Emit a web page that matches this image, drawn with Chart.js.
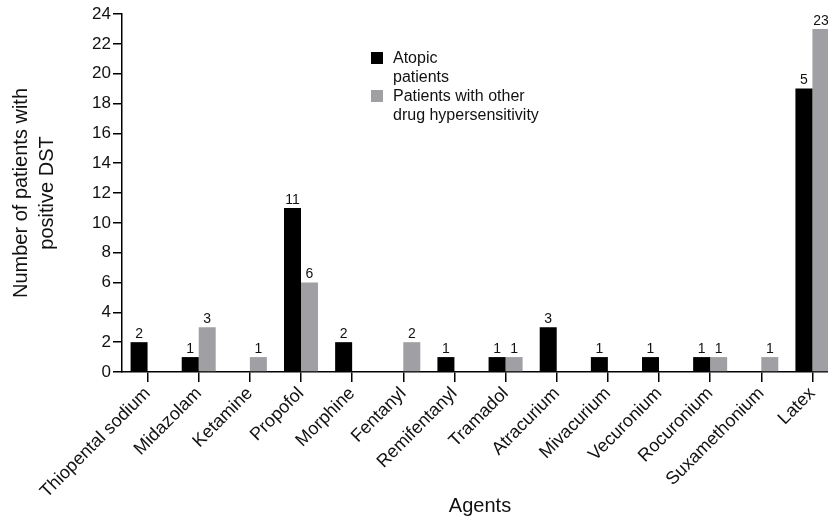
<html><head>
<meta charset="UTF-8">
<title>Positive DST by agent</title>
<script src="https://cdn.jsdelivr.net/npm/chart.js"></script>
<style>
body {
  margin: 0;
  background: #ffffff;
  overflow: hidden;
  font-family: "Liberation Sans", Arial, sans-serif;
}
.wrap {
  position: relative;
  width: 840px;
  height: 520px;
}
.legend {
  position: absolute;
  left: 371px;
  top: 48px;
  font-size: 16px;
  line-height: 19px;
  color: #111;
}
.legend-item {
  display: flex;
  align-items: flex-start;
}
.swatch {
  width: 12px;
  height: 12px;
  margin: 4px 10px 0 0;
  flex-shrink: 0;
}
</style>
</head>
<body>

<div class="wrap">
  <canvas id="chart" width="840" height="520"></canvas>
  <div class="legend">
    <div class="legend-item"><span class="swatch" style="background:#000"></span><span>Atopic<br>patients</span></div>
    <div class="legend-item"><span class="swatch" style="background:#a0a0a4"></span><span>Patients with other<br>drug hypersensitivity</span></div>
  </div>
</div>

<script>
const agents = ["Thiopental sodium", "Midazolam", "Ketamine", "Propofol", "Morphine", "Fentanyl",
  "Remifentanyl", "Tramadol", "Atracurium", "Mivacurium", "Vecuronium", "Rocuronium",
  "Suxamethonium", "Latex"];

const atopic = [2, 1, 0, 11, 2, 0, 1, 1, 3, 1, 1, 1, 0, 19];
const otherDrug = [0, 3, 1, 6, 0, 2, 0, 1, 0, 0, 0, 1, 1, 23];

// labels printed above bars (the latex atopic bar is labelled 5 in the source figure)
const atopicLabels = ["2", "1", "", "11", "2", "", "1", "1", "3", "1", "1", "1", "", "5"];
const otherLabels = ["", "3", "1", "6", "", "2", "", "1", "", "", "", "1", "1", "23"];

const yTicks = [0, 2, 4, 6, 8, 10, 12, 14, 16, 18, 20, 22, 24];

const barLabels = {
  id: 'barLabels',
  afterDatasetsDraw(chart) {
    const ctx = chart.ctx;
    const sets = [atopicLabels, otherLabels];
    ctx.save();
    ctx.font = '14px "Liberation Sans", Arial, sans-serif';
    ctx.fillStyle = '#111';
    ctx.textAlign = 'center';
    ctx.textBaseline = 'bottom';
    sets.forEach((labels, di) => {
      chart.getDatasetMeta(di).data.forEach((bar, i) => {
        if (labels[i]) ctx.fillText(labels[i], bar.x, bar.y - 1);
      });
    });
    ctx.restore();
  }
};

new Chart(document.getElementById('chart'), {
  type: 'bar',
  data: {
    labels: agents,
    datasets: [
      { label: 'Atopic patients', data: atopic, backgroundColor: '#000000' },
      { label: 'Patients with other drug hypersensitivity', data: otherDrug, backgroundColor: '#a0a0a4' }
    ]
  },
  options: {
    responsive: false,
    animation: false,
    layout: { padding: { top: 14, right: 2, left: 0, bottom: 0 } },
    datasets: { bar: { categoryPercentage: 0.665, barPercentage: 1 } },
    plugins: { legend: { display: false }, tooltip: { enabled: false } },
    scales: {
      x: {
        afterFit: s => { s.height = 148; },
        border: { color: '#000', width: 1.5 },
        grid: { offset: false, drawOnChartArea: false, color: '#000', lineWidth: 1.5, tickLength: 10 },
        ticks: {
          color: '#111',
          maxRotation: 45,
          minRotation: 45,
          autoSkip: false,
          padding: 1,
          font: { size: 18, family: '"Liberation Sans", Arial, sans-serif' }
        },
        title: {
          display: true,
          text: 'Agents',
          color: '#111',
          padding: { top: 0, bottom: 2 },
          font: { size: 20, family: '"Liberation Sans", Arial, sans-serif' }
        }
      },
      y: {
        min: 0,
        max: 24,
        afterFit: s => { s.width = 122; },
        afterBuildTicks: s => { s.ticks = yTicks.map(v => ({ value: v })); },
        border: { color: '#000', width: 1.5 },
        grid: { drawOnChartArea: false, color: '#000', lineWidth: 1.5, tickLength: 9 },
        ticks: {
          color: '#111',
          padding: 2,
          font: { size: 17, family: '"Liberation Sans", Arial, sans-serif' }
        },
        title: {
          display: true,
          text: ['Number of patients with', 'positive DST'],
          color: '#111',
          padding: { top: 8, bottom: 0 },
          font: { size: 20, lineHeight: 1.3, family: '"Liberation Sans", Arial, sans-serif' }
        }
      }
    }
  },
  plugins: [barLabels]
});
</script>

</body></html>
